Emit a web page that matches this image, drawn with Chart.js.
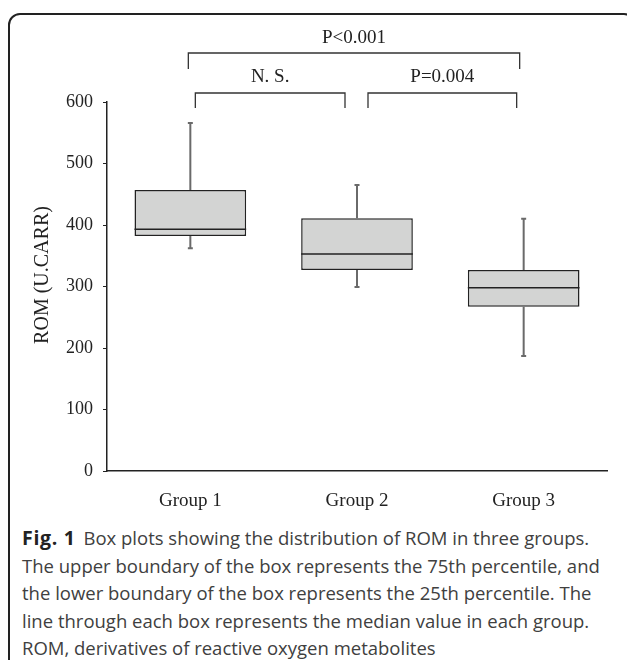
<!DOCTYPE html>
<html><head><meta charset="utf-8">
<script src="https://cdn.jsdelivr.net/npm/chart.js@4"></script>
<style>
html,body{margin:0;padding:0;width:627px;height:660px;overflow:hidden;background:#fff;}
#frame{position:absolute;left:8px;top:13px;width:628px;height:700px;box-sizing:border-box;border:2px solid #222;border-radius:12px;}
#wrap{position:absolute;left:0;top:0;width:627px;height:520px;}
#cap{position:absolute;left:22px;top:524px;font-family:"Open Sans";font-size:18.5px;line-height:27.5px;color:#404040;white-space:nowrap;}
#cap b{font-weight:700;color:#222;font-size:19.5px;letter-spacing:0.7px;margin-right:3px;}
</style></head><body>
<div id="frame"></div>
<div id="wrap"><canvas id="c" width="627" height="520"></canvas></div>
<div id="cap"><b>Fig. 1</b> Box plots showing the distribution of ROM in three groups.<br>The upper boundary of the box represents the 75th percentile, and<br>the lower boundary of the box represents the 25th percentile. The<br>line through each box represents the median value in each group.<br>ROM, derivatives of reactive oxygen metabolites</div>
<script>
const categories = ['Group 1', 'Group 2', 'Group 3'];
const q1 = [382, 327, 267];
const q3 = [457, 411, 327];
const medians = [393, 353, 298];
const whiskerLow = [362, 299, 187];
const whiskerHigh = [566, 465, 410];
const yTicks = [0, 100, 200, 300, 400, 500, 600];
const bracketFrom = [0, 0, 1];
const bracketTo = [2, 1, 2];
const bracketLabels = ['P<0.001', 'N. S.', 'P=0.004'];
const yTitle = 'ROM (U.CARR)';

// drawing style (pixel offsets for brackets)
const bracketStyle = [
  {dxFrom: -2, dxTo: -4, y: 53, leg: 16, textY: 38},
  {dxFrom: 5, dxTo: -12, y: 93, leg: 15, textY: 77},
  {dxFrom: 11, dxTo: -7, y: 93, leg: 15, textY: 77}
];

const boxPlugin = {
  id: 'boxExtras',
  afterDatasetsDraw(chart) {
    const ctx = chart.ctx;
    const xs = chart.scales.x, ys = chart.scales.y;
    const meta = chart.getDatasetMeta(0);
    ctx.save();
    categories.forEach((c, i) => {
      const x = xs.getPixelForValue(i);
      const w = meta.data[i].width;
      ctx.strokeStyle = '#6a6a6a';
      ctx.lineWidth = 2;
      const cap = 2.5;
      const yH = ys.getPixelForValue(whiskerHigh[i]);
      const yQ3 = ys.getPixelForValue(q3[i]);
      const yQ1 = ys.getPixelForValue(q1[i]);
      const yL = ys.getPixelForValue(whiskerLow[i]);
      ctx.beginPath();
      ctx.moveTo(x, yQ3); ctx.lineTo(x, yH);
      ctx.moveTo(x - cap, yH); ctx.lineTo(x + cap, yH);
      ctx.moveTo(x, yQ1); ctx.lineTo(x, yL);
      ctx.moveTo(x - cap, yL); ctx.lineTo(x + cap, yL);
      ctx.stroke();
      ctx.strokeStyle = '#222';
      ctx.lineWidth = 1.5;
      const yM = ys.getPixelForValue(medians[i]);
      ctx.beginPath();
      ctx.moveTo(x - w / 2, yM); ctx.lineTo(x + w / 2, yM);
      ctx.stroke();
    });
    ctx.strokeStyle = '#333';
    ctx.lineWidth = 1.3;
    ctx.fillStyle = '#222';
    ctx.font = '19px "Liberation Serif"';
    ctx.textAlign = 'center';
    ctx.textBaseline = 'middle';
    bracketLabels.forEach((lab, k) => {
      const s = bracketStyle[k];
      const x1 = xs.getPixelForValue(bracketFrom[k]) + s.dxFrom;
      const x2 = xs.getPixelForValue(bracketTo[k]) + s.dxTo;
      ctx.beginPath();
      ctx.moveTo(x1, s.y + s.leg); ctx.lineTo(x1, s.y); ctx.lineTo(x2, s.y); ctx.lineTo(x2, s.y + s.leg);
      ctx.stroke();
      ctx.fillText(lab, (x1 + x2) / 2, s.textY);
    });
    ctx.save();
    ctx.translate(43, 275);
    ctx.rotate(-Math.PI / 2);
    ctx.font = '20px "Liberation Serif"';
    ctx.fillText(yTitle, 0, 0);
    ctx.restore();
    ctx.restore();
  }
};

new Chart(document.getElementById('c'), {
  type: 'bar',
  data: {
    labels: categories,
    datasets: [{
      data: q1.map((v, i) => [v, q3[i]]),
      backgroundColor: '#d3d4d3',
      borderColor: '#222',
      borderWidth: 1.5,
      borderSkipped: false,
      barPercentage: 0.67,
      categoryPercentage: 1
    }]
  },
  options: {
    responsive: false,
    animation: false,
    layout: {padding: {top: 102, right: 20, left: 0, bottom: 0}},
    plugins: {legend: {display: false}, tooltip: {enabled: false}},
    scales: {
      x: {
        grid: {display: true, drawOnChartArea: false, drawTicks: false},
        border: {display: true, color: '#222', width: 1.5},
        ticks: {font: {family: 'Liberation Serif', size: 19}, color: '#222', padding: 19},
        afterFit: s => { s.height = 49; }
      },
      y: {
        min: 0, max: 600,
        afterBuildTicks: s => { s.ticks = yTicks.map(v => ({value: v})); },
        grid: {display: true, drawOnChartArea: false, drawTicks: true, tickLength: 4, color: '#222', lineWidth: 1},
        border: {display: true, color: '#222', width: 1.5},
        ticks: {font: {family: 'Liberation Serif', size: 18}, color: '#222', padding: 10},
        title: {display: false},
        afterFit: s => { s.width = 107; }
      }
    }
  },
  plugins: [boxPlugin]
});
</script>
</body></html>
